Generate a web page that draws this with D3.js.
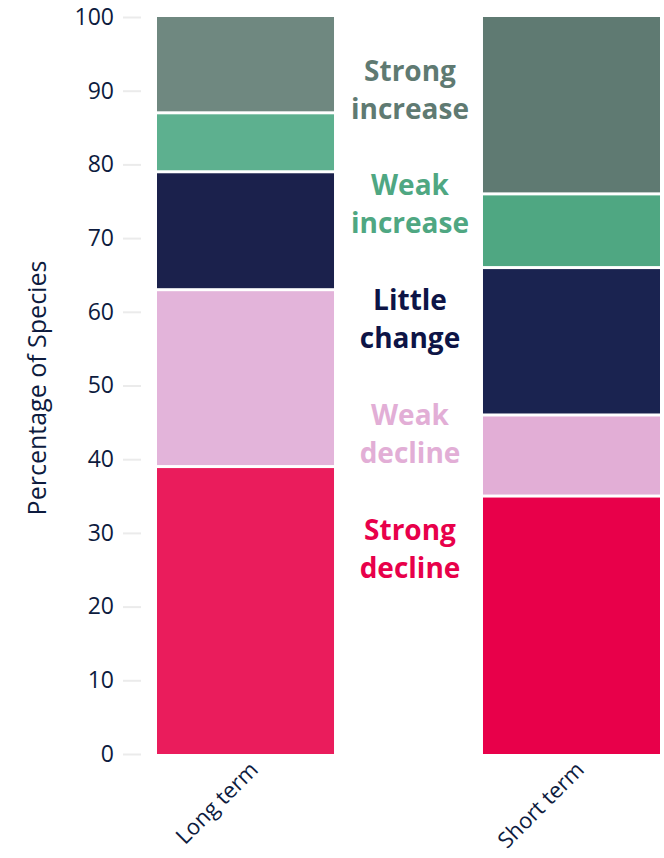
<!DOCTYPE html>
<html>
<head>
<meta charset="utf-8">
<script src="https://cdn.jsdelivr.net/npm/d3@7"></script>
<style>
  body { margin: 0; background: #fff; }
  text { font-family: "Open Sans", Lato, sans-serif; }
</style>
</head>
<body>
<div id="chart"></div>
<script>
// Data
var periods = ["Long term", "Short term"];
var categories = ["Strong decline", "Weak decline", "Little change", "Weak increase", "Strong increase"];
var longTerm = [39, 24, 16, 8, 13];
var shortTerm = [35, 11, 20, 10, 24];
var yTicks = [0, 10, 20, 30, 40, 50, 60, 70, 80, 90, 100];

var shortColors = ["#e8004a", "#e2aed6", "#1a2350", "#4fa782", "#5f7a72"];
var longColors = ["#ea1c5c", "#e3b4da", "#1b214c", "#5db08f", "#6f8880"];
var textColors = ["#e8004a", "#e2aed6", "#0d1446", "#4fa782", "#5f7a72"];

var width = 664, height = 858;
var font = "'Open Sans', Lato, sans-serif";

var svg = d3.select("#chart").append("svg")
    .attr("width", width)
    .attr("height", height);

var x = d3.scaleBand()
    .domain(periods)
    .range([157, 660])
    .paddingInner(0.457)
    .paddingOuter(0);

var y = d3.scaleLinear()
    .domain([0, 100])
    .range([754, 17]);

// Y axis
var yAxis = svg.append("g")
    .attr("transform", "translate(141,0)")
    .call(d3.axisLeft(y).tickValues(yTicks).tickSize(18).tickPadding(9));
yAxis.attr("font-family", font).attr("font-size", 23);
yAxis.select(".domain").remove();
yAxis.selectAll(".tick line")
    .attr("stroke", "#ebebeb")
    .attr("stroke-width", 2);
yAxis.selectAll(".tick text")
    .attr("fill", "#0d1b3e");

svg.append("text")
    .attr("transform", "translate(46,388) rotate(-90)")
    .attr("text-anchor", "middle")
    .attr("fill", "#0d1b3e")
    .attr("font-size", 25)
    .text("Percentage of Species");

// Stack data
var table = periods.map(function (p, i) {
    var vals = i === 0 ? longTerm : shortTerm;
    var row = { period: p };
    categories.forEach(function (c, j) { row[c] = vals[j]; });
    return row;
});
var series = d3.stack().keys(categories)(table);

var gap = 1.5;
svg.selectAll(".layer")
    .data(series)
    .enter().append("g")
    .attr("class", "layer")
    .each(function (s, i) {
        d3.select(this).selectAll("rect")
            .data(s)
            .enter().append("rect")
            .attr("fill", function (d) {
                return d.data.period === "Long term" ? longColors[i] : shortColors[i];
            })
            .attr("x", function (d) { return x(d.data.period); })
            .attr("width", x.bandwidth())
            .attr("y", function (d) { return y(d[1]) + (d[1] < 100 ? gap : 0); })
            .attr("height", function (d) {
                var top = y(d[1]) + (d[1] < 100 ? gap : 0);
                var bot = y(d[0]) - (d[0] > 0 ? gap : 0);
                return bot - top;
            });
    });

// X labels rotated
periods.forEach(function (p) {
    var cx = x(p) + x.bandwidth() / 2;
    svg.append("text")
        .attr("transform", "translate(" + (cx + 14) + ",771) rotate(-45)")
        .attr("text-anchor", "end")
        .attr("fill", "#0d1b3e")
        .attr("font-size", 22)
        .text(p);
});

// Category labels in the middle
var labelLines = [["Strong", "decline"], ["Weak", "decline"], ["Little", "change"], ["Weak", "increase"], ["Strong", "increase"]];
var labelY = [530, 415, 300, 185, 71];
labelLines.forEach(function (lines, i) {
    var t = svg.append("text")
        .attr("text-anchor", "middle")
        .attr("fill", textColors[i])
        .attr("font-size", 28)
        .attr("font-weight", 700);
    lines.forEach(function (l, k) {
        t.append("tspan")
            .attr("x", 410)
            .attr("y", labelY[i] + 10 + k * 38)
            .text(l);
    });
});
</script>
</body>
</html>
